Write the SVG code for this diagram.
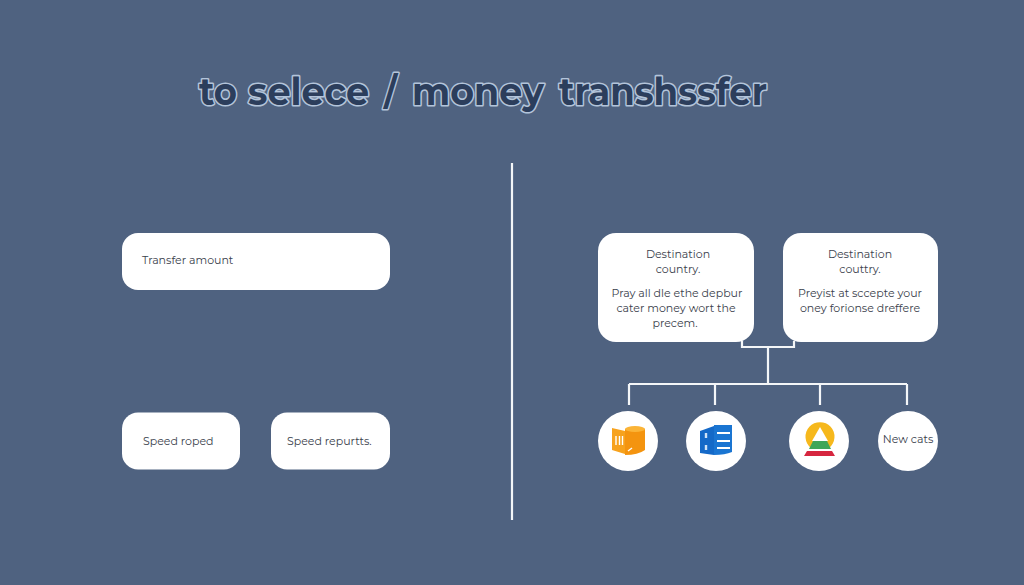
<svg xmlns="http://www.w3.org/2000/svg" width="1024" height="585" viewBox="0 0 1024 585">
<style>
.box{fill:#fff}
.t{font-family:"Montserrat","Noto Sans","Liberation Sans",sans-serif;fill:#3a414c;font-size:11px}
.c{text-anchor:middle}
.line{fill:none;stroke:#f4f6f8;stroke-width:2.2}
.title{font-family:"Montserrat","Open Sans","Noto Sans",sans-serif;font-weight:700;font-size:38px;fill:#2c3e5c;stroke:#b3c4da;stroke-width:3.2;paint-order:stroke;stroke-linejoin:round}
</style>
<rect width="1024" height="585" fill="#4f6280"/>
<text id="title" class="title" y="105"><tspan x="199" textLength="38" lengthAdjust="spacingAndGlyphs">to</tspan><tspan x="248" textLength="121" lengthAdjust="spacingAndGlyphs">selece</tspan><tspan x="384" textLength="13" lengthAdjust="spacingAndGlyphs">/</tspan><tspan x="412" textLength="132" lengthAdjust="spacingAndGlyphs">money</tspan><tspan x="559" textLength="208" lengthAdjust="spacingAndGlyphs">transhssfer</tspan></text>
<g id="connectors">
<line class="line" x1="512" y1="163" x2="512" y2="520"/>
<path class="line" d="M742 341V347H794V341M768 347V384M629 384H907M629 384V405M715 384V405M820 384V405M907 384V405"/>
</g>
<g id="node-transfer"><rect class="box" x="122" y="233" width="268" height="57" rx="16"/><text class="t" x="142" y="264">Transfer amount</text></g>
<g id="node-speed1"><rect class="box" x="122" y="412.500" width="118" height="57" rx="16"/><text class="t" x="143" y="445">Speed roped</text></g>
<g id="node-speed2"><rect class="box" x="271" y="412.500" width="119" height="57" rx="16"/><text class="t" x="287" y="445">Speed repurtts.</text></g>
<g id="node-dest1"><rect class="box" x="598" y="233" width="156" height="109" rx="18"/>
<text class="t c" x="678" y="258">Destination</text><text class="t c" x="678" y="273">country.</text>
<text class="t c" x="677" y="297">Pray all dle ethe depbur</text><text class="t c" x="676" y="312">cater money wort the</text><text class="t c" x="675" y="327">precem.</text></g>
<g id="node-dest2"><rect class="box" x="783" y="233" width="155" height="109" rx="18"/>
<text class="t c" x="860" y="258">Destination</text><text class="t c" x="860" y="273">couttry.</text>
<text class="t c" x="860" y="297">Preyist at sccepte your</text><text class="t c" x="860" y="312">oney forionse dreffere</text></g>
<g id="node-icon1"><circle class="box" cx="628" cy="441" r="30"/>
<path d="M625 429Q635 425 645 429V450Q638 455 625 455Z" fill="#f4940f"/>
<path d="M612 428L625 431V454L612 450Z" fill="#f7a21d"/>
<path d="M616 436V445M619.500 436V445M622.500 436V445" stroke="#fff" stroke-width="1.400"/>
<path d="M628 451L632 448" stroke="#fff" stroke-width="1.400"/>
<ellipse cx="635" cy="429" rx="10" ry="3" fill="#fbb437"/></g>
<g id="node-icon2"><circle class="box" cx="716" cy="441" r="30"/>
<path d="M700 431L714 426V455L700 453Z" fill="#1469c8"/>
<path d="M714 425H732V452Q725 455 714 455Z" fill="#1a75d2"/>
<path d="M717 433H730M717 441H730M717 448H730" stroke="#fff" stroke-width="1.800"/>
<path d="M706 433V438M706 445V450" stroke="#cfe3f7" stroke-width="2.400"/></g>
<g id="node-icon3"><circle class="box" cx="819" cy="441" r="30"/>
<path d="M811 448A14.500 14.500 0 1 1 829 448Z" fill="#f6b81c"/>
<path d="M820 427L828 441H812Z" fill="#fff"/>
<path d="M813 441H827L831 449H809Z" fill="#3fa658"/>
<path d="M809 449H831V451H809Z" fill="#fff"/>
<path d="M807 451H832L835 456H804Z" fill="#d6263f"/></g>
<g id="node-cats"><circle class="box" cx="908" cy="441" r="30"/><text class="t c" x="908" y="443">New cats</text></g>
</svg>
